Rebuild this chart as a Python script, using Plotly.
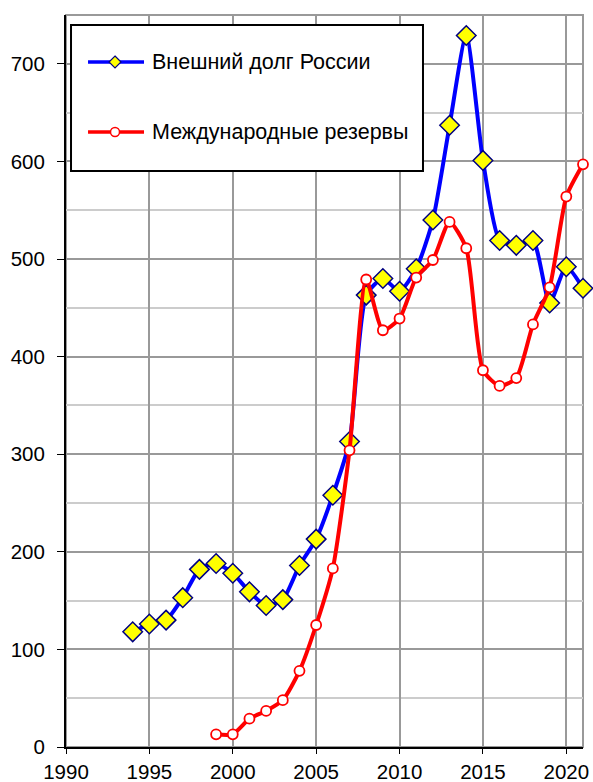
import plotly.graph_objects as go

debt_years = list(range(1994, 2022))
debt_values = [118, 126, 130, 153, 182, 188, 178, 159, 145, 151, 186, 213, 258, 313,
               463, 480, 467, 490, 540, 637, 729, 601, 519, 514, 519, 455, 492, 470]

res_years = list(range(1999, 2022))
res_values = [13, 13, 29, 37, 48, 78, 125, 183, 304, 479, 427, 439, 481, 499, 538,
              511, 386, 370, 378, 433, 471, 564, 597]

name_debt = "Внешний долг России"
name_res = "Международные резервы"

BLUE = "#0000ff"
RED = "#ff0000"
NAVY = "#000080"
YELLOW = "#ffff00"

fig = go.Figure()
fig.add_trace(go.Scatter(
    x=debt_years, y=debt_values, name=name_debt, mode="lines+markers",
    line=dict(color=BLUE, width=4, shape="spline", smoothing=0.6),
    marker=dict(symbol="diamond", size=15, color=YELLOW,
                line=dict(color=NAVY, width=1.5)),
    cliponaxis=False, showlegend=False))
fig.add_trace(go.Scatter(
    x=res_years, y=res_values, name=name_res, mode="lines+markers",
    line=dict(color=RED, width=4, shape="spline", smoothing=0.6),
    marker=dict(symbol="circle", size=10, color="#ffffff",
                line=dict(color=RED, width=1.8)),
    cliponaxis=False, showlegend=False))

# plot frame (gray top/right)
fig.add_shape(type="rect", xref="paper", yref="paper", x0=0, y0=0, x1=1, y1=1,
              line=dict(color="#999999", width=2), layer="below")

# hand-built legend box
fig.add_shape(type="rect", xref="paper", yref="paper", x0=0.0097, y0=0.7869,
              x1=0.6905, y1=0.9863, line=dict(color="#000000", width=2),
              fillcolor="white", layer="above")
legend_items = [
    (0.9358, name_debt, BLUE, "diamond"),
    (0.8402, name_res, RED, "circle"),
]
for ly, label, col, sym in legend_items:
    fig.add_shape(type="line", xref="paper", yref="paper", x0=0.0426, x1=0.1509,
                  y0=ly, y1=ly, line=dict(color=col, width=3.5), layer="above")
    if sym == "diamond":
        fig.add_shape(type="path", xref="paper", yref="paper",
                      xsizemode="pixel", ysizemode="pixel", xanchor=0.0948, yanchor=ly,
                      path="M 0 6 L 6 0 L 0 -6 L -6 0 Z", fillcolor=YELLOW,
                      line=dict(color=NAVY, width=1.2), layer="above")
    else:
        fig.add_shape(type="circle", xref="paper", yref="paper",
                      xsizemode="pixel", ysizemode="pixel", xanchor=0.0948, yanchor=ly,
                      x0=-4.5, x1=4.5, y0=-4.5, y1=4.5, fillcolor="white",
                      line=dict(color=col, width=1.5), layer="above")
    fig.add_annotation(x=0.1625, y=ly, xref="paper", yref="paper", text=label,
                       showarrow=False, xanchor="left", yanchor="middle",
                       font=dict(size=21.5, color="#000000"))

fig.update_layout(
    width=593, height=782,
    margin=dict(l=66, r=10, t=15, b=35, autoexpand=False),
    paper_bgcolor="white", plot_bgcolor="white",
    font=dict(family="Liberation Sans, Arial, sans-serif", size=20.5, color="#000000"),
    showlegend=False,
    xaxis=dict(range=[1990, 2021], dtick=5, tick0=1990, showgrid=True,
               gridcolor="#999999", gridwidth=2, showline=True, linecolor="#000000",
               linewidth=2, ticks="outside", ticklen=5, tickcolor="#000000",
               zeroline=False, tickfont=dict(size=20.5), automargin=False),
    yaxis=dict(range=[0, 750], dtick=100, tick0=0, showgrid=True,
               gridcolor="#999999", gridwidth=2, showline=True, linecolor="#000000",
               linewidth=2, ticks="outside", ticklen=7, tickcolor="#000000",
               zeroline=False, tickfont=dict(size=20.5), ticklabelstandoff=8,
               automargin=False,
               minor=dict(dtick=50, showgrid=True, gridcolor="#cccccc", gridwidth=2)),
)

css = ("var s=document.createElement('style');"
       "s.textContent='html,body{margin:0;padding:0;overflow:hidden;height:782px;}';"
       "document.head.appendChild(s);")
fig.write_html("out.html", config={"displayModeBar": False}, post_script=css)
